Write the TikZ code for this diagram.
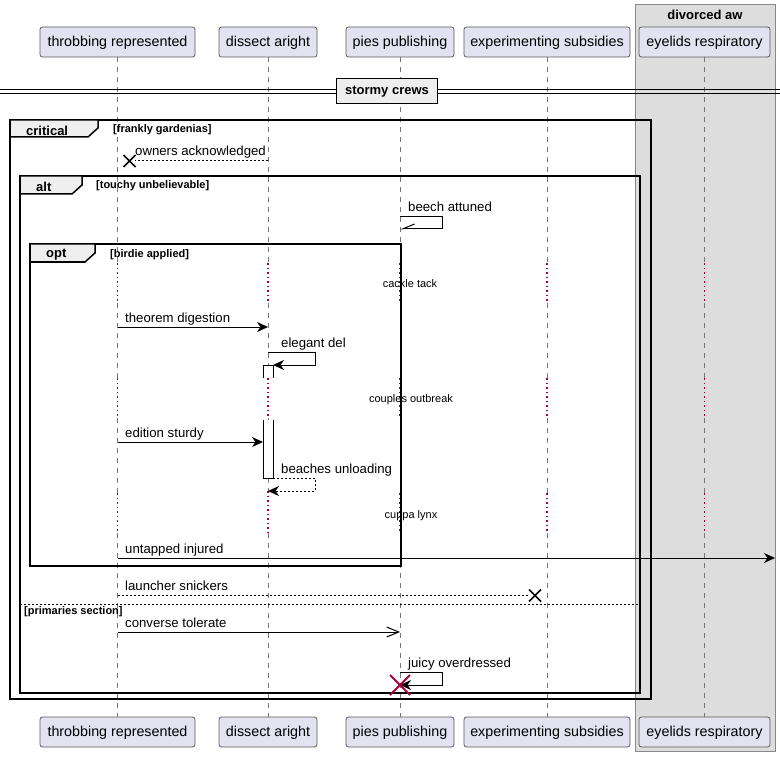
\documentclass[tikz,border=0pt]{standalone}
\usepackage{fontspec}
\setmainfont{Liberation Sans}
\usetikzlibrary{arrows.meta}

\definecolor{partfill}{HTML}{E2E2F0}
\definecolor{partline}{HTML}{5A5A5A}
\definecolor{lifegray}{HTML}{777777}
\definecolor{groupfill}{HTML}{DDDDDD}
\definecolor{groupline}{HTML}{888888}
\definecolor{tabfill}{HTML}{EEEEEE}
\definecolor{umlred}{HTML}{A80036}

\newcommand\setfs[1]{\fontsize{#1}{#1}\selectfont}

\tikzset{
  part/.style={draw=partline, fill=partfill, rounded corners=2.5pt, line width=0.8pt,
    minimum height=30pt, inner sep=0pt, text height=11pt, text depth=2pt, font=\setfs{14.3}},
  lifeline/.style={draw=lifegray, line width=0.8pt, dash pattern=on 5pt off 5pt},
  delayline/.style={draw=umlred, line width=1.3pt, dash pattern=on 1.5pt off 3pt},
  msg/.style={line width=1pt, -{Stealth[length=11pt,width=10pt,inset=3.5pt]}},
  retmsg/.style={line width=1pt, dash pattern=on 2pt off 2pt, -{Stealth[length=11pt,width=10pt,inset=3.5pt]}},
  openmsg/.style={line width=1pt, -{Straight Barb[length=12pt,width=10pt,line width=1pt]}},
  halfmsg/.style={line width=1pt, -{Straight Barb[harpoon,swap,length=12pt,width=10pt,line width=1pt]}},
  lbl/.style={anchor=base west, inner sep=0pt, font=\setfs{13.2}},
  delaytxt/.style={inner sep=0pt, font=\setfs{11}},
  umlframe/.style={draw=black, line width=1.5pt},
  tabshape/.style={draw=black, fill=tabfill, line width=1.5pt, line join=miter},
  tabtxt/.style={anchor=west, inner sep=0pt, font=\bfseries\setfs{13}},
  condtxt/.style={anchor=west, inner sep=0pt, font=\bfseries\setfs{11}},
  xmark/.style={line width=1.6pt},
  destroymark/.style={draw=umlred, line width=2pt},
  activation/.style={draw=black, fill=white, line width=1pt},
}

\begin{document}
\begin{tikzpicture}[x=1pt, y=-1pt]
\useasboundingbox (0,0) rectangle (780,757);

% participant group box
\draw[fill=groupfill, draw=groupline, line width=1pt] (635.5,5) rectangle (775.5,751);
\node[font=\bfseries\setfs{13}] (grp) at (705,15) {divorced aw};

% participants, top and bottom
\node[part, minimum width=155pt] (tA) at (117.5,42) {throbbing represented};
\node[part, minimum width=98pt]  (tB) at (268,42) {dissect aright};
\node[part, minimum width=108pt] (tC) at (400,42) {pies publishing};
\node[part, minimum width=166pt] (tD) at (547,42) {experimenting subsidies};
\node[part, minimum width=131pt] (tE) at (704.5,42) {eyelids respiratory};

\node[part, minimum width=155pt] (bA) at (117.5,732) {throbbing represented};
\node[part, minimum width=98pt]  (bB) at (268,732) {dissect aright};
\node[part, minimum width=108pt] (bC) at (400,732) {pies publishing};
\node[part, minimum width=166pt] (bD) at (547,732) {experimenting subsidies};
\node[part, minimum width=131pt] (bE) at (704.5,732) {eyelids respiratory};

% lifelines with three delay gaps
\foreach \p in {A,C,D,E}{
  \draw[lifeline]  (t\p.south) -- (t\p.south |- 0,263);
  \draw[delayline] (t\p.south |- 0,263) -- (t\p.south |- 0,303);
  \draw[lifeline]  (t\p.south |- 0,303) -- (t\p.south |- 0,378);
  \draw[delayline] (t\p.south |- 0,378) -- (t\p.south |- 0,418);
  \draw[lifeline]  (t\p.south |- 0,418) -- (t\p.south |- 0,493);
  \draw[delayline] (t\p.south |- 0,493) -- (t\p.south |- 0,533);
  \draw[lifeline]  (t\p.south |- 0,533) -- (b\p.north);
}
\draw[lifeline]  (tB.south) -- (tB.south |- 0,263);
\draw[delayline] (tB.south |- 0,263) -- (tB.south |- 0,303);
\draw[lifeline]  (tB.south |- 0,303) -- (tB.south |- 0,378);
\draw[delayline] (tB.south |- 0,378) -- (tB.south |- 0,418);
\draw[lifeline]  (tB.south |- 0,418) -- (tB.south |- 0,491);
\draw[delayline] (tB.south |- 0,491) -- (tB.south |- 0,533);
\draw[lifeline]  (tB.south |- 0,533) -- (bB.north);

% divider
\draw[line width=1pt] (0,89.5) -- (780,89.5);
\draw[line width=1pt] (0,93.5) -- (780,93.5);
\node[draw=black, fill=tabfill, line width=1.5pt, minimum width=101pt, minimum height=25pt,
  inner sep=0pt, text height=10pt, text depth=2pt, font=\bfseries\setfs{13}] (div) at (387,91) {stormy crews};

% frames
\draw[umlframe] (10,120) rectangle (651,699);
\draw[tabshape] (10,120) -- (98,120) -- (98,128) -- (88,137) -- (10,137) -- cycle;
\node[tabtxt] (fcrit) at (26,130.5) {critical};
\node[condtxt] (ccrit) at (113,130) {[frankly gardenias]};

\draw[umlframe] (20,176) rectangle (640,693);
\draw[tabshape] (20,176) -- (82,176) -- (82,185) -- (72,194) -- (20,194) -- cycle;
\node[tabtxt] (falt) at (36,186.5) {alt};
\node[condtxt] (calt) at (96,185.5) {[touchy unbelievable]};

\draw[umlframe] (30,244) rectangle (401,566);
\draw[tabshape] (30,244) -- (95,244) -- (95,253) -- (85,262) -- (30,262) -- cycle;
\node[tabtxt] (fopt) at (46,255) {opt};
\node[condtxt] (copt) at (110,254.5) {[birdie applied]};

% else separator
\draw[line width=1pt, dash pattern=on 2pt off 2pt] (20,604) -- (640,604);
\node[condtxt] (celse) at (24,611.5) {[primaries section]};

% owners acknowledged
\coordinate (m1s) at (tB.south |- 0,161);
\coordinate (m1e) at (129.5,161);
\draw[line width=1pt, dash pattern=on 2pt off 2pt] (m1s) -- ([xshift=5pt]m1e);
\draw[xmark] ([shift={(-6,-6)}]m1e) -- ([shift={(6,6)}]m1e);
\draw[xmark] ([shift={(-6,6)}]m1e) -- ([shift={(6,-6)}]m1e);
\node[lbl] (l1) at (135,156) {owners acknowledged};

% beech attuned
\coordinate (m2s) at (tC.south |- 0,217);
\coordinate (m2e) at (tC.south |- 0,229);
\draw[halfmsg] (m2s) -- (442,217) -- (442,229) -- (m2e);
\node[lbl] (l2) at (408,212) {beech attuned};

% delay notes
\node[delaytxt] (d1) at (410,284) {cackle tack};
\node[delaytxt] (d2) at (411,400) {couples outbreak};
\node[delaytxt] (d3) at (411,516) {cuppa lynx};

% theorem digestion
\draw[msg] (tA.south |- 0,327) -- (tB.south |- 0,327);
\node[lbl] (l3) at (125,322) {theorem digestion};

% activation bar
\draw[activation] (263,378) -- (263,365) -- (273,365) -- (273,378);
\path[fill=white] (263,420) rectangle (273,478);
\draw[activation] (263,420) -- (263,478) -- (273,478) -- (273,420);

% elegant del
\draw[msg] (tB.south |- 0,352) -- (315,352) -- (315,365) -- (273,365);
\node[lbl] (l4) at (281,347) {elegant del};

% edition sturdy
\draw[msg] (tA.south |- 0,442) -- (263,442);
\node[lbl] (l5) at (125,437) {edition sturdy};

% beaches unloading
\draw[retmsg] (273,478) -- (315,478) -- (315,491) -- (tB.south |- 0,491);
\node[lbl] (l6) at (281,473) {beaches unloading};

% untapped injured
\coordinate (m7e) at (775,558);
\draw[msg] (tA.south |- 0,558) -- (m7e);
\node[lbl] (l7) at (125,553) {untapped injured};

% launcher snickers
\coordinate (m8e) at (535,595.5);
\draw[line width=1pt, dash pattern=on 2pt off 2pt] (tA.south |- 0,595.5) -- ([xshift=-6pt]m8e);
\draw[xmark] ([shift={(-6,-6)}]m8e) -- ([shift={(6,6)}]m8e);
\draw[xmark] ([shift={(-6,6)}]m8e) -- ([shift={(6,-6)}]m8e);
\node[lbl] (l8) at (125,590) {launcher snickers};

% converse tolerate
\draw[openmsg] (tA.south |- 0,632) -- (tC.south |- 0,632);
\node[lbl] (l9) at (125,627) {converse tolerate};

% juicy overdressed, then destroyed
\coordinate (m10e) at (tC.south |- 0,685);
\draw[msg] (tC.south |- 0,672) -- (442,672) -- (442,685) -- (m10e);
\node[lbl] (l10) at (408,667) {juicy overdressed};
\draw[destroymark] ([shift={(-10,-10)}]m10e) -- ([shift={(10,10)}]m10e);
\draw[destroymark] ([shift={(-10,10)}]m10e) -- ([shift={(10,-10)}]m10e);

\end{tikzpicture}
\end{document}
